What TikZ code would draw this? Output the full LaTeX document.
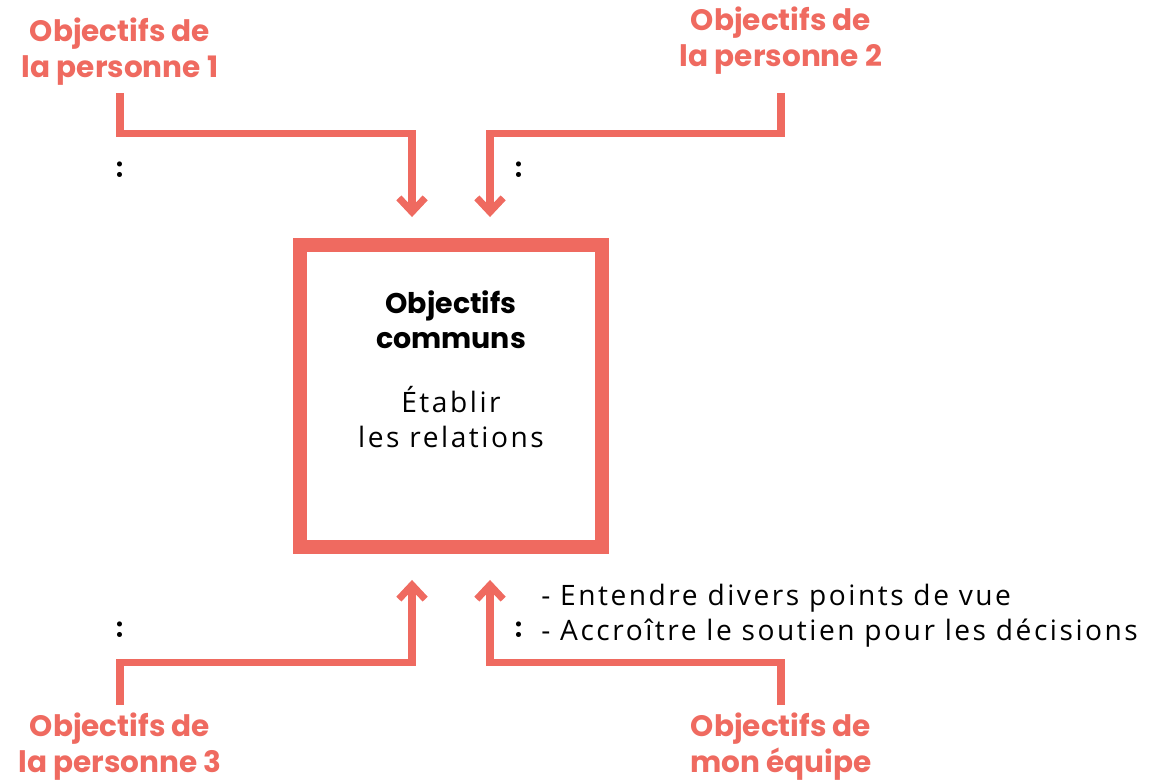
\documentclass[tikz,border=0pt]{standalone}
\usepackage{fontspec}
\usetikzlibrary{arrows.meta,calc,positioning}
\newfontfamily\titlefont{Poppins}
\newfontfamily\handfont{Open Sans}[LetterSpace=9]
\definecolor{coral}{HTML}{EF6A60}
\tikzset{
  goal/.style={font=\titlefont\bfseries\fontsize{16.8}{20.5}\selectfont, text=coral, align=center, inner sep=0pt},
  link/.style={coral, line width=4pt, -{Straight Barb[length=8pt,width=15pt]}},
  hand/.style={font=\handfont\fontsize{16}{20}\selectfont, inner sep=0pt},
  dots/.style={font=\bfseries\fontsize{20}{20}\selectfont, inner sep=0pt}
}
\begin{document}
\begin{tikzpicture}[x=0.02cm, y=-0.02cm]
        \useasboundingbox (0,0) rectangle (1155,783);

        % Central box
        \node[draw=coral, line width=0.28cm, minimum width=6.04cm, minimum height=6.04cm] (box) at (451,396) {};
        \node[font=\titlefont\bfseries\fontsize{16.2}{20}\selectfont, align=center, inner sep=0pt] (common) at (451,320) {Objectifs\\communs};
        \node[hand, align=center] (rel) at (451,417) {Établir\\les relations};

        % Goal labels
        \node[goal] (p1) at (120,52) {Objectifs de\\la personne 1};
        \node[goal] (p2) at (781,41) {Objectifs de\\la personne 2};
        \node[goal] (p3) at (120,747) {Objectifs de\\la personne 3};
        \node[goal] (team) at (781,747) {Objectifs de\\mon équipe};

        % Connectors
        \draw[link] (120,93) |- ($(box.north)+(-39,-105)$) -- ($(box.north)+(-39,-21)$);
        \draw[link] (781,93) |- ($(box.north)+(39,-105)$) -- ($(box.north)+(39,-21)$);
        \draw[link] (120,705) |- ($(box.south)+(-39,109)$) -- ($(box.south)+(-39,26)$);
        \draw[link] (781,705) |- ($(box.south)+(39,109)$) -- ($(box.south)+(39,26)$);

        % Blanks
        \node[dots] (b1) at (120,170) {:};
        \node[dots] (b2) at (519,170) {:};
        \node[dots] (b3) at (120,630) {:};
        \node[dots] (b4) at (519,630) {:};

        % Team goals
        \node[hand, anchor=west] (why1) at (541,598) {- Entendre divers points de vue};
        \node[hand, anchor=west] (why2) at (541,633) {- Accroître le soutien pour les décisions};
\end{tikzpicture}
\end{document}
